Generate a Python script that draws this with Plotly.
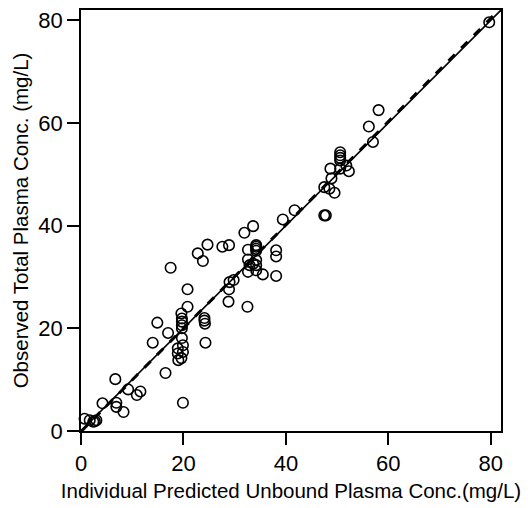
import numpy as np
import plotly.graph_objects as go

# Individual predicted unbound vs observed total plasma concentrations (mg/L)
pred_unbound = [
    0.7, 1.7, 2.7, 3.0, 2.4, 4.2, 6.9, 6.9, 8.3, 6.7, 9.2, 10.9, 11.6, 16.5, 19.9,
    14.0, 24.3, 18.9, 19.9, 18.9, 19.9, 19.0, 19.6, 19.7, 14.9, 17.0,
    19.6, 19.7, 19.7, 19.7, 19.7, 24.1, 24.1, 24.2, 20.8, 20.8, 17.5,
    22.8, 23.8, 24.7, 27.6, 28.9, 29.0, 29.8, 28.9, 28.8,
    32.5, 33.6, 31.9, 34.2, 34.2, 34.2, 34.2, 32.6, 38.1, 38.1,
    32.6, 32.9, 32.6, 33.6, 34.2, 34.2, 34.2, 35.5, 38.1,
    39.4, 41.7, 47.5, 47.8, 47.5, 48.5, 49.5, 48.9, 48.7, 50.6, 51.8, 52.3,
    50.6, 50.6, 50.6, 50.6, 56.2, 57.0, 58.1, 79.7,
]
obs_total = [
    2.4, 2.1, 1.9, 2.1, 1.8, 5.4, 5.5, 4.7, 3.7, 10.1, 8.1, 7.0, 7.7, 11.3, 5.5,
    17.2, 17.2, 16.1, 16.7, 15.1, 15.4, 13.8, 14.2, 18.1, 21.1, 19.1,
    22.9, 21.9, 21.3, 20.6, 20.0, 22.0, 21.5, 20.9, 27.6, 24.2, 31.8,
    34.6, 33.1, 36.3, 35.9, 36.2, 29.0, 29.4, 27.6, 25.2,
    24.2, 39.9, 38.6, 36.2, 35.9, 35.5, 35.1, 35.3, 35.2, 34.0,
    33.4, 32.3, 31.0, 32.6, 32.3, 31.3, 33.3, 30.5, 30.2,
    41.2, 43.0, 42.0, 42.0, 47.5, 47.2, 46.4, 49.2, 51.1, 51.1, 51.7, 50.6,
    54.3, 53.7, 53.2, 52.7, 59.3, 56.3, 62.5, 79.6,
]

axis_max = 82
x_line = np.array([0, axis_max])

# least-squares regression of observed on predicted
slope, intercept = np.polyfit(pred_unbound, obs_total, 1)

fig = go.Figure()
fig.add_trace(go.Scatter(
    x=pred_unbound, y=obs_total, mode="markers",
    marker=dict(symbol="circle-open", size=10.5, color="black",
                line=dict(color="black", width=1.6)),
    showlegend=False, cliponaxis=False,
))
fig.add_trace(go.Scatter(
    x=x_line, y=x_line, mode="lines",
    line=dict(color="black", width=1.6), showlegend=False,
))
fig.add_trace(go.Scatter(
    x=x_line, y=slope * x_line + intercept, mode="lines",
    line=dict(color="black", width=3, dash="dash"), showlegend=False,
))

axis_style = dict(
    range=[0, axis_max], tickvals=[0, 20, 40, 60, 80],
    showline=True, linecolor="black", linewidth=1.5, mirror=True,
    ticks="outside", ticklen=12, tickwidth=1.5, tickcolor="black",
    showgrid=False, zeroline=False,
    tickfont=dict(family="Liberation Sans, Arial", size=22, color="black"),
)

fig.update_layout(
    width=532, height=508,
    margin=dict(l=81, r=31, t=8, b=77),
    paper_bgcolor="white", plot_bgcolor="white",
    font=dict(family="Liberation Sans, Arial", color="black"),
    xaxis=dict(**axis_style,
               title=dict(text="Individual Predicted Unbound Plasma Conc.(mg/L)",
                          font=dict(size=20.5), standoff=8)),
    yaxis=dict(**axis_style,
               title=dict(text="Observed Total Plasma Conc. (mg/L)",
                          font=dict(size=20.5), standoff=4)),
)

fig.write_html("out.html")
